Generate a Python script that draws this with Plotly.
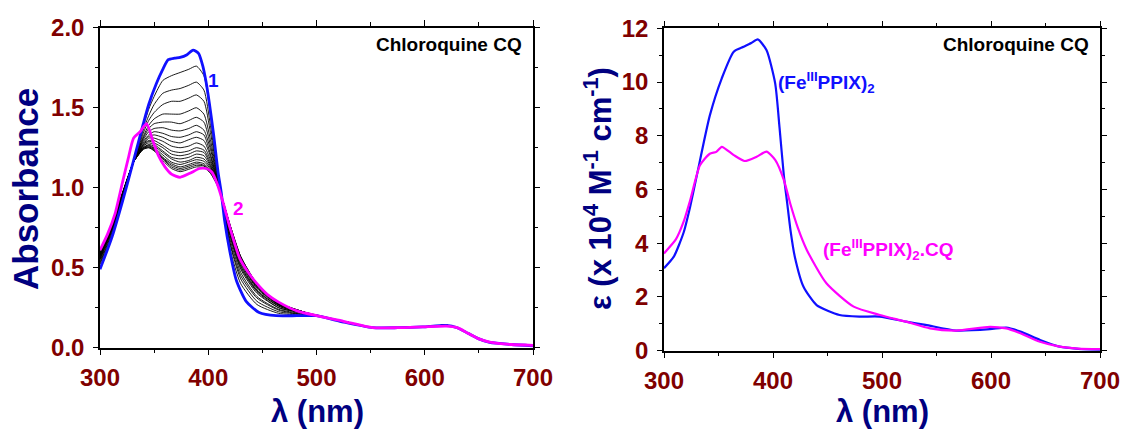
import plotly.graph_objects as go

# ---------------- Left panel data (Absorbance) ----------------
wl_blue_left = [300, 311, 321, 331, 340, 345, 352, 358, 363, 369, 374, 380, 386, 391, 395, 398, 401, 405, 409, 412,
                415, 420, 426, 435, 447, 463, 482, 500, 525, 552, 575, 598, 620, 630, 640, 650, 660, 680, 700]
abs_blue_left = [0.49, 0.69, 0.92, 1.17, 1.40, 1.52, 1.65, 1.74, 1.80, 1.81, 1.815, 1.83, 1.86, 1.84, 1.76, 1.66, 1.53, 1.33, 1.10, 0.97,
                 0.80, 0.60, 0.42, 0.29, 0.22, 0.20, 0.20, 0.20, 0.16, 0.125, 0.125, 0.13, 0.14, 0.125, 0.09, 0.055, 0.033, 0.02, 0.012]

wl_mag_left = [300, 307, 314, 321, 326, 331, 337, 343, 349, 354, 360, 366, 374, 383, 392, 398, 403, 408, 414, 420,
               429, 437, 445, 455, 465, 482, 500, 525, 552, 575, 598, 620, 630, 640, 650, 660, 680, 700]
abs_mag_left = [0.61, 0.71, 0.84, 1.04, 1.18, 1.31, 1.35, 1.40, 1.29, 1.20, 1.13, 1.085, 1.065, 1.09, 1.12, 1.12, 1.10, 1.03, 0.90, 0.75,
                0.56, 0.47, 0.40, 0.33, 0.285, 0.23, 0.20, 0.165, 0.125, 0.125, 0.13, 0.135, 0.125, 0.09, 0.055, 0.035, 0.02, 0.015]

wl_black = [300, 311, 321, 331, 340, 345, 350, 358, 366, 374, 382, 389, 396, 402, 408, 413, 420, 430, 445, 465, 485, 500,
            525, 552, 575, 598, 620, 630, 640, 650, 660, 680, 700]
black_tail = [0.165, 0.125, 0.125, 0.13, 0.14, 0.125, 0.09, 0.055, 0.035, 0.02, 0.015]
black_curves = [
    [0.50, 0.70, 0.93, 1.16, 1.38, 1.49, 1.57, 1.67, 1.70, 1.72, 1.74, 1.76, 1.70, 1.45, 1.14, 0.93, 0.62, 0.40, 0.27, 0.215, 0.205, 0.20],
    [0.52, 0.71, 0.93, 1.16, 1.36, 1.45, 1.52, 1.59, 1.61, 1.62, 1.64, 1.66, 1.61, 1.39, 1.12, 0.93, 0.65, 0.43, 0.29, 0.225, 0.21, 0.20],
    [0.53, 0.72, 0.94, 1.16, 1.34, 1.42, 1.47, 1.52, 1.54, 1.54, 1.56, 1.58, 1.54, 1.345, 1.11, 0.93, 0.66, 0.45, 0.31, 0.235, 0.21, 0.20],
    [0.54, 0.73, 0.945, 1.16, 1.32, 1.39, 1.43, 1.46, 1.46, 1.46, 1.48, 1.50, 1.46, 1.30, 1.09, 0.93, 0.68, 0.47, 0.32, 0.24, 0.215, 0.20],
    [0.55, 0.74, 0.95, 1.16, 1.31, 1.37, 1.40, 1.41, 1.41, 1.40, 1.42, 1.44, 1.41, 1.265, 1.08, 0.93, 0.70, 0.49, 0.34, 0.25, 0.22, 0.20],
    [0.555, 0.74, 0.95, 1.16, 1.30, 1.35, 1.37, 1.375, 1.36, 1.355, 1.37, 1.39, 1.36, 1.24, 1.07, 0.93, 0.71, 0.50, 0.35, 0.25, 0.22, 0.20],
    [0.56, 0.745, 0.955, 1.16, 1.29, 1.33, 1.35, 1.34, 1.32, 1.315, 1.33, 1.35, 1.33, 1.21, 1.06, 0.93, 0.72, 0.51, 0.355, 0.26, 0.22, 0.20],
    [0.565, 0.75, 0.96, 1.16, 1.28, 1.32, 1.33, 1.315, 1.29, 1.28, 1.30, 1.315, 1.295, 1.195, 1.055, 0.93, 0.73, 0.52, 0.36, 0.26, 0.22, 0.20],
    [0.57, 0.75, 0.96, 1.16, 1.27, 1.31, 1.31, 1.29, 1.26, 1.25, 1.26, 1.28, 1.26, 1.175, 1.05, 0.93, 0.735, 0.53, 0.37, 0.265, 0.225, 0.20],
    [0.575, 0.76, 0.96, 1.16, 1.27, 1.295, 1.295, 1.265, 1.23, 1.22, 1.23, 1.25, 1.235, 1.16, 1.045, 0.93, 0.74, 0.54, 0.375, 0.27, 0.225, 0.20],
    [0.58, 0.76, 0.965, 1.16, 1.26, 1.29, 1.28, 1.25, 1.21, 1.20, 1.21, 1.23, 1.22, 1.145, 1.04, 0.93, 0.75, 0.545, 0.38, 0.27, 0.225, 0.20],
    [0.58, 0.76, 0.965, 1.16, 1.26, 1.28, 1.27, 1.23, 1.19, 1.18, 1.19, 1.21, 1.20, 1.135, 1.035, 0.93, 0.75, 0.55, 0.385, 0.27, 0.23, 0.20],
    [0.58, 0.765, 0.97, 1.16, 1.25, 1.27, 1.26, 1.22, 1.18, 1.16, 1.17, 1.19, 1.18, 1.125, 1.03, 0.93, 0.76, 0.555, 0.39, 0.275, 0.23, 0.20],
    [0.585, 0.765, 0.97, 1.16, 1.25, 1.265, 1.25, 1.205, 1.16, 1.145, 1.16, 1.175, 1.165, 1.115, 1.03, 0.93, 0.76, 0.56, 0.39, 0.275, 0.23, 0.20],
    [0.585, 0.77, 0.97, 1.16, 1.245, 1.26, 1.245, 1.19, 1.15, 1.13, 1.145, 1.16, 1.15, 1.105, 1.025, 0.93, 0.765, 0.56, 0.395, 0.28, 0.23, 0.20],
    [0.59, 0.77, 0.97, 1.16, 1.245, 1.255, 1.24, 1.185, 1.14, 1.12, 1.135, 1.15, 1.14, 1.10, 1.025, 0.93, 0.77, 0.565, 0.40, 0.28, 0.23, 0.20],
    [0.59, 0.77, 0.97, 1.16, 1.24, 1.25, 1.235, 1.18, 1.13, 1.11, 1.125, 1.14, 1.135, 1.095, 1.02, 0.93, 0.77, 0.57, 0.40, 0.28, 0.23, 0.20],
    [0.59, 0.77, 0.97, 1.16, 1.24, 1.25, 1.23, 1.17, 1.12, 1.10, 1.115, 1.13, 1.125, 1.09, 1.02, 0.93, 0.77, 0.57, 0.40, 0.28, 0.23, 0.205],
]

# ---------------- Right panel data (epsilon) ----------------
wl_blue_right = [300, 309, 318, 324, 330, 342, 353, 364, 373, 380, 386, 394, 402, 406, 410, 413, 416, 420, 428, 440,
                 461, 480, 498, 522, 540, 568, 599, 614, 627, 645, 663, 680, 700]
eps_blue_right = [3.07, 3.5, 4.4, 5.36, 6.5, 8.75, 10.14, 11.13, 11.31, 11.45, 11.59, 11.19, 9.95, 8.3, 6.5, 5.5, 4.5, 3.5, 2.38, 1.70,
                  1.33, 1.27, 1.27, 1.08, 0.96, 0.75, 0.80, 0.86, 0.71, 0.40, 0.15, 0.07, 0.03]
wl_mag_right = [300, 311, 318, 324, 333, 342, 348, 353, 364, 374, 385, 394, 402, 410, 416, 423, 431, 449, 474, 498,
                522, 544, 568, 599, 614, 627, 645, 663, 680, 700]
eps_mag_right = [3.62, 4.15, 4.8, 5.6, 6.9, 7.33, 7.40, 7.59, 7.28, 7.06, 7.22, 7.41, 7.10, 6.35, 5.45, 4.55, 3.75, 2.51, 1.64, 1.33,
                 1.08, 0.83, 0.75, 0.89, 0.83, 0.65, 0.33, 0.15, 0.08, 0.06]

x_ticks = [300, 400, 500, 600, 700]
y_ticks_left = [0.0, 0.5, 1.0, 1.5, 2.0]
y_ticks_right = [0, 2, 4, 6, 8, 10, 12]

# ---------------- styling ----------------
W, H = 1127, 430
FONT = "Arial, Liberation Sans, sans-serif"
BLUE = "#1010FF"
MAGENTA = "#FF00FF"
TICKCOL = "#800000"
TITLECOL = "#000080"

def px(x):
    return x / W

def py(y):
    return (H - y) / H

fig = go.Figure()

for row in black_curves:
    fig.add_trace(go.Scatter(x=wl_black, y=row + black_tail, mode="lines",
                             line=dict(color="black", width=0.9, shape="spline", smoothing=0.6),
                             xaxis="x", yaxis="y", showlegend=False, hoverinfo="skip"))
fig.add_trace(go.Scatter(x=wl_blue_left, y=abs_blue_left, mode="lines", name="1",
                         line=dict(color=BLUE, width=2.8, shape="spline", smoothing=0.6),
                         xaxis="x", yaxis="y", showlegend=False))
fig.add_trace(go.Scatter(x=wl_mag_left, y=abs_mag_left, mode="lines", name="2",
                         line=dict(color=MAGENTA, width=2.8, shape="spline", smoothing=0.6),
                         xaxis="x", yaxis="y", showlegend=False))
fig.add_trace(go.Scatter(x=wl_blue_right, y=eps_blue_right, mode="lines", name="(FeIIIPPIX)2",
                         line=dict(color=BLUE, width=2.2, shape="spline", smoothing=0.6),
                         xaxis="x2", yaxis="y2", showlegend=False))
fig.add_trace(go.Scatter(x=wl_mag_right, y=eps_mag_right, mode="lines", name="(FeIIIPPIX)2.CQ",
                         line=dict(color=MAGENTA, width=2.2, shape="spline", smoothing=0.6),
                         xaxis="x2", yaxis="y2", showlegend=False))

tickfont = dict(family=FONT, size=24, color=TICKCOL, weight="bold")

def xaxis_cfg(domain, anchor):
    return dict(domain=domain, anchor=anchor, range=[300, 700], tickvals=x_ticks, automargin=False,
                ticks="outside", ticklen=6, tickwidth=1.3, tickcolor="black",
                showline=True, linecolor="black", linewidth=1.5, mirror="allticks",
                showgrid=False, zeroline=False, tickfont=tickfont, ticklabelstandoff=2,
                minor=dict(dtick=50, ticks="outside", ticklen=3.5, tickwidth=1.2, tickcolor="black", showgrid=False))

def yaxis_cfg(domain, anchor, rng, tv, minor_dtick, fmt):
    return dict(domain=domain, anchor=anchor, range=rng, tickvals=tv, tickformat=fmt, automargin=False,
                ticks="outside", ticklen=5, tickwidth=1.3, tickcolor="black",
                showline=True, linecolor="black", linewidth=1.5, mirror="allticks",
                showgrid=False, zeroline=False, tickfont=tickfont, ticklabelstandoff=4,
                minor=dict(dtick=minor_dtick, ticks="outside", ticklen=3.5, tickwidth=1.2, tickcolor="black", showgrid=False))

def font(size, color):
    return dict(family=FONT, size=size, color=color, weight="bold")

annotations = [
    dict(text="Chloroquine CQ", x=px(524), y=py(45), xanchor="right", yanchor="middle", font=font(19, "black")),
    dict(text="Chloroquine CQ", x=px(1091), y=py(45), xanchor="right", yanchor="middle", font=font(19, "black")),
    dict(text="1", x=px(213), y=py(80), xanchor="center", yanchor="middle", font=font(19, BLUE)),
    dict(text="2", x=px(238), y=py(208), xanchor="center", yanchor="middle", font=font(19, MAGENTA)),
    dict(text="(Fe<sup>III</sup>PPIX)<sub>2</sub>", x=px(776), y=py(82), xanchor="left", yanchor="middle",
         font=font(19, BLUE)),
    dict(text="(Fe<sup>III</sup>PPIX)<sub>2</sub>.CQ", x=px(821), y=py(250), xanchor="left", yanchor="middle",
         font=font(19, MAGENTA)),
    # axis titles
    dict(text="Absorbance", x=px(26), y=py(189), xanchor="center", yanchor="middle", textangle=-90,
         font=font(35, TITLECOL)),
    dict(text="λ (nm)", x=px(317), y=py(411), xanchor="center", yanchor="middle", font=font(31, TITLECOL)),
    dict(text="λ (nm)", x=px(882), y=py(411), xanchor="center", yanchor="middle", font=font(31, TITLECOL)),
    dict(text="ε (x 10<sup>4</sup> M<sup>-1</sup> cm<sup>-1</sup>)", x=px(598), y=py(189),
         xanchor="center", yanchor="middle", textangle=-90, font=font(31, TITLECOL)),
]
for a in annotations:
    a.update(xref="paper", yref="paper", showarrow=False)

fig.update_layout(
    width=W, height=H,
    margin=dict(l=0, r=0, t=0, b=0, autoexpand=False),
    paper_bgcolor="white", plot_bgcolor="white",
    showlegend=False,
    xaxis=xaxis_cfg([px(100), px(533)], "y"),
    yaxis=yaxis_cfg([py(347.7), py(27.7)], "x", [0, 2], y_ticks_left, 0.25, ".1f"),
    xaxis2=xaxis_cfg([px(664), px(1100)], "y2"),
    yaxis2=yaxis_cfg([py(350.7), py(28.3)], "x2", [0, 12], y_ticks_right, 1, "d"),
    annotations=annotations,
)

fig.write_html("out.html")
